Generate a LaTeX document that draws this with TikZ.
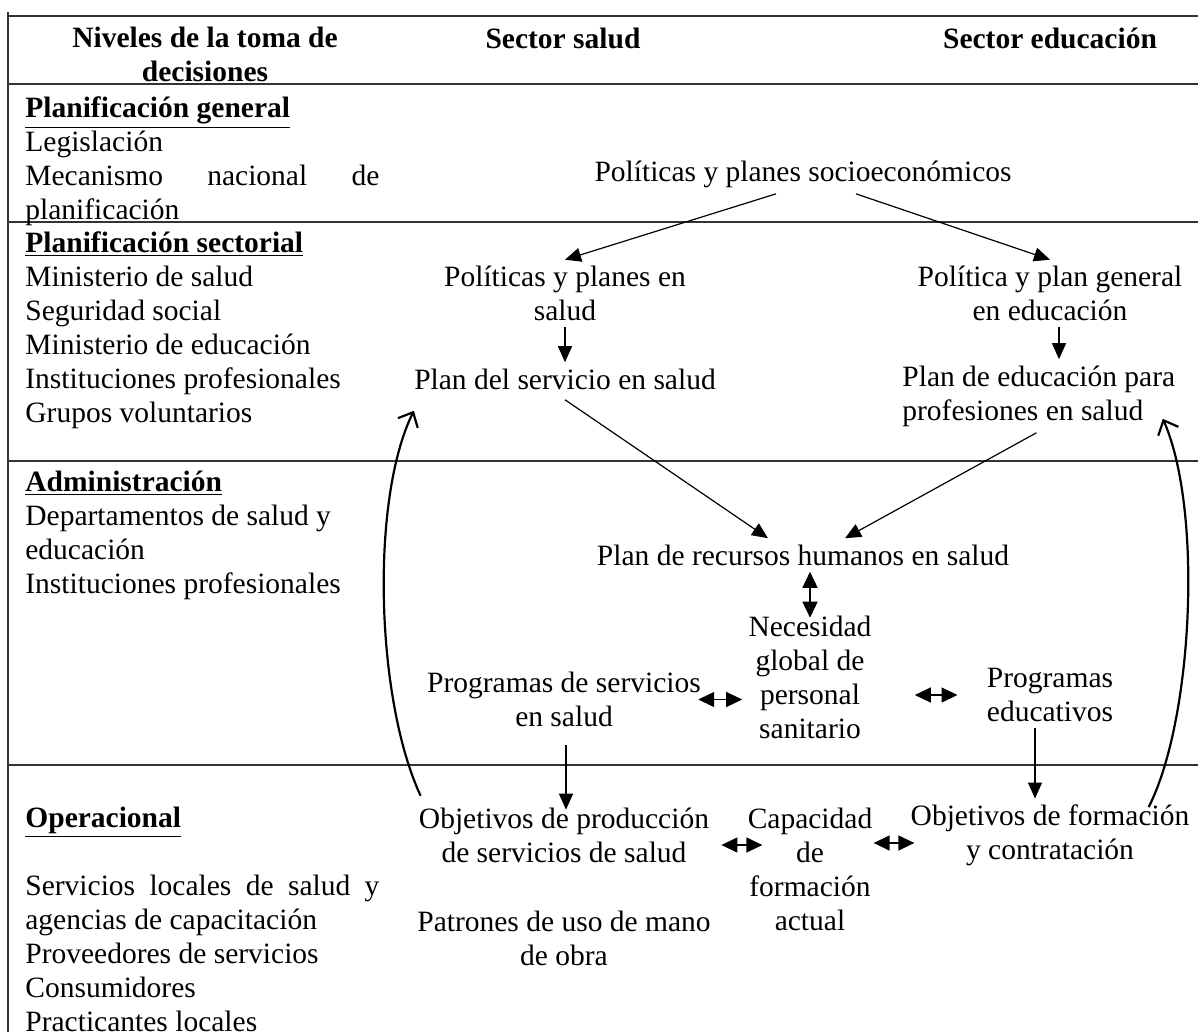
\documentclass[tikz,border=0pt]{standalone}
\usepackage{fontspec}
\setmainfont{Liberation Serif}
\usetikzlibrary{arrows.meta}
\tikzset{
  every node/.style={font=\fontsize{14.75pt}{17pt}\selectfont, inner sep=3pt},
  lvl/.style={anchor=north west, inner sep=0pt, text width=177pt, align=justify},
  head/.style={font=\fontsize{14.75pt}{17pt}\selectfont\bfseries, align=center},
  box/.style={align=center},
  arr/.style={-{Triangle[length=8pt,width=7pt]}, line width=0.6pt},
  dbl/.style={{Triangle[length=8pt,width=7.5pt]}-{Triangle[length=8pt,width=7.5pt]}, line width=0.7pt},
  back/.style={-{Straight Barb[length=6pt,width=11pt]}, line width=1.1pt},
  rule/.style={line width=0.7pt, black!80}
}
\tolerance=9999
\hyphenpenalty=10000
\begin{document}
\begin{tikzpicture}[x=0.5pt,y=-0.5pt]
\useasboundingbox (0,0) rectangle (1198,1032);
% table
\draw[rule] (8,12) -- (8,1032);
\foreach \y in {16,84,222,461,765}
  \draw[rule] (8,\y) -- (1198,\y);
% headers
\node[head] (niv) at (205,54) {Niveles de la toma de\\decisiones};
\node[head] (hsal) at (563,38) {Sector salud};
\node[head] (hedu) at (1050,38) {Sector educación};
% levels
\node[lvl] (gen) at (25,96.5) {\underline{\textbf{Planificación general}}\par
  Legislación\par Mecanismo nacional de planificación};
\node[lvl] (sec) at (25,231.5) {\underline{\textbf{Planificación sectorial}}\par
  Ministerio de salud\par Seguridad social\par Ministerio de educación\par
  Instituciones profesionales\par Grupos voluntarios};
\node[lvl] (adm) at (25,470.5) {\underline{\textbf{Administración}}\par
  Departamentos de salud y\\educación\par Instituciones profesionales};
\node[lvl] (ope) at (25,806.5) {\underline{\textbf{Operacional}}\par\null\par
  Servicios locales de salud y agencias de capacitación\par
  Proveedores de servicios\par Consumidores\par Practicantes locales};
% diagram
\node[box] (socio) at (803,174) {Políticas y planes socioeconómicos};
\node[box] (polsal) at (565,293.5) {Políticas y planes en\\salud};
\node[box] (poledu) at (1050,293.5) {Política y plan general\\en educación};
\node[box] (plansal) at (565,379) {Plan del servicio en salud};
\node[box, text width=138pt, align=justify, anchor=west] (planedu) at (896,396) {Plan de educación para\\profesiones en salud};
\node[box] (rrhh) at (803,555) {Plan de recursos humanos en salud};
\node[box] (necesidad) at (810,677.5) {Necesidad\\global de\\personal\\sanitario};
\node[box] (progsal) at (564,699.5) {Programas de servicios\\en salud};
\node[box] (progedu) at (1050,695) {Programas\\educativos};
\node[box] (objsal) at (564,835.5) {Objetivos de producción\\de servicios de salud};
\node[box] (patrones) at (564,938.5) {Patrones de uso de mano\\de obra};
\node[box] (capacidad) at (810,869.5) {Capacidad\\de\\formación\\actual};
\node[box] (objedu) at (1050,835.5) {Objetivos de formación\\y contratación};
% arrows
\draw[arr] ([xshift=-13.5pt]socio.south) -- (polsal.north);
\draw[arr] ([xshift=26.5pt]socio.south) -- (poledu.north);
\draw[arr] (polsal.south) -- (plansal.north);
\draw[arr] ([xshift=4.5pt]poledu.south) -- ([xshift=4.5pt]poledu.south |- planedu.north);
\draw[arr] ([yshift=-2pt]plansal.south) -- ([xshift=-17.5pt]rrhh.north);
\draw[arr] ([xshift=-2pt]planedu.south) -- ([xshift=21pt]rrhh.north);
\draw[dbl, shorten >=-4pt] ([xshift=3.5pt]rrhh.south) -- (necesidad.north);
\draw[dbl] ([xshift=-4.5pt]progsal.east) -- (progsal.east -| necesidad.west);
\draw[dbl] ([xshift=18.5pt]necesidad.east |- progedu.west) -- ([xshift=-11.5pt]progedu.west);
\draw[arr] ([xshift=-7.5pt]progedu.south) -- ([xshift=-7.5pt]progedu.south |- objedu.north);
\draw[arr] ([xshift=1pt,yshift=-6pt]progsal.south) -- ([xshift=1pt,yshift=-4pt]progsal.south |- objsal.north);
\draw[dbl] ([xshift=3pt,yshift=-4.75pt]objsal.east) -- ([xshift=10.5pt,yshift=-4.75pt]capacidad.west |- objsal.east);
\draw[dbl] ([xshift=-2.5pt,yshift=-3.75pt]capacidad.east |- objedu.west) -- ([xshift=5pt,yshift=-3.75pt]objedu.west);
% feedback
\draw[back] ([xshift=4pt,yshift=3pt]objsal.north west) .. controls (376,700) and (370,500) .. ([xshift=3pt,yshift=-7.5pt]plansal.south west);
\draw[back] ([xshift=-23.5pt,yshift=-4.25pt]objedu.north east) .. controls (1193,720) and (1203,510) .. ([xshift=-11pt,yshift=7pt]planedu.south east);
\end{tikzpicture}
\end{document}
